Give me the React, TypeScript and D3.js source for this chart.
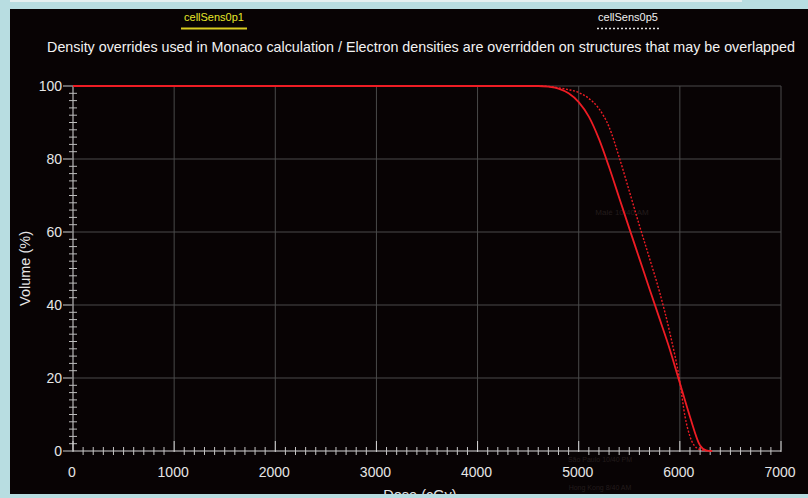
import React from 'react';
import * as d3 from 'd3';

// DVH curves
const doseSolid = [0, 4400, 4600, 4700, 4800, 4900, 5000, 5100, 5200, 5300, 5400, 5500, 5600, 5700, 5800, 5900, 6000, 6100, 6200, 6260, 6320];
const volSolid = [100, 100, 100, 99.8, 99.3, 98.0, 95.6, 91.6, 85.5, 77.8, 69.4, 61.0, 52.7, 44.4, 36.2, 27.9, 18.6, 9.4, 1.5, 0.2, 0];

const doseDotted = [0, 4500, 4700, 4800, 4900, 5000, 5100, 5200, 5300, 5400, 5500, 5600, 5700, 5800, 5900, 6000, 6050, 6100, 6140, 6200, 6260];
const volDotted = [100, 100, 99.9, 99.5, 99.0, 98.2, 96.6, 93.8, 88.8, 80.5, 71.2, 61.8, 52.8, 43.5, 32.5, 19.0, 9.6, 4.0, 1.6, 0.4, 0];

const xTicks = [0, 1000, 2000, 3000, 4000, 5000, 6000, 7000];
const yTicks = [0, 20, 40, 60, 80, 100];

const legendNames = ['cellSens0p1', 'cellSens0p5'];
const title = 'Density overrides used in Monaco calculation / Electron densities are overridden on structures that may be overlapped';

const W = 808;
const H = 498;
const font = '"Liberation Sans", Arial, sans-serif';
const bg = '#080304';
const frame = '#b8dde1';
const red = '#ee1c24';

export default function App() {
  const x = d3.scaleLinear().domain([0, 7000]).range([73, 781]);
  const y = d3.scaleLinear().domain([0, 100]).range([451, 86]);

  const line = d3.line<[number, number]>()
    .x(d => x(d[0]))
    .y(d => y(d[1]))
    .curve(d3.curveMonotoneX);

  const solid = doseSolid.map((d, i) => [d, volSolid[i]] as [number, number]);
  const dotted = doseDotted.map((d, i) => [d, volDotted[i]] as [number, number]);

  const xMinor = d3.range(100, 7000, 100).filter(v => v % 1000 !== 0);
  const yMinor = d3.range(2, 100, 2).filter(v => v % 20 !== 0);

  return (
    <svg width={W} height={H} style={{ position: 'absolute', left: 0, top: 0, display: 'block' }} fontFamily={font}>
      <rect x={0} y={0} width={W} height={H} fill={frame} />
      <rect x={0} y={0} width={742} height={2} fill="#e4eff0" />
      <rect x={10} y={9} width={W - 10} height={485} fill={bg} />

      {/* legend */}
      <text x={214} y={21} fill="#e6e62a" fontSize={11} textAnchor="middle">{legendNames[0]}</text>
      <line x1={181} x2={247} y1={28.5} y2={28.5} stroke="#d8cc20" strokeWidth={2} />
      <text x={628} y={21} fill="#f0f0f0" fontSize={11} textAnchor="middle">{legendNames[1]}</text>
      <line x1={597} x2={659} y1={28.5} y2={28.5} stroke="#e0e0e0" strokeWidth={1.5} strokeDasharray="2,2" />

      <text x={421} y={52} fill="#f2f2f2" fontSize={14.3} textAnchor="middle">{title}</text>

      {/* faint watermark texts */}
      <text x={622} y={215} fill="#231c1c" fontSize={8} textAnchor="middle">Malé 10/40 AM</text>
      <text x={600} y={462} fill="#231c1c" fontSize={7} textAnchor="middle">São Paulo 10/40 PM</text>
      <text x={600} y={490} fill="#231c1c" fontSize={7} textAnchor="middle">Hong Kong 8/40 AM</text>

      {/* grid */}
      {xTicks.filter(t => t > 0).map(t => (
        <line key={'gx' + t} x1={x(t)} x2={x(t)} y1={y(100)} y2={y(0)} stroke="#4a4a4a" strokeWidth={1} />
      ))}
      {yTicks.filter(t => t > 0).map(t => (
        <line key={'gy' + t} x1={x(0)} x2={x(7000)} y1={y(t)} y2={y(t)} stroke="#4a4a4a" strokeWidth={1} />
      ))}

      {/* y axis */}
      <line x1={x(0)} x2={x(0)} y1={y(100)} y2={y(0)} stroke="#d8d8d8" strokeWidth={1} />
      {yMinor.map(t => (
        <line key={'ym' + t} x1={x(0) - 4} x2={x(0) + 4} y1={y(t)} y2={y(t)} stroke="#bdbdbd" strokeWidth={1} />
      ))}
      {yTicks.map(t => (
        <g key={'yt' + t}>
          <line x1={x(0) - 10} x2={x(0)} y1={y(t)} y2={y(t)} stroke="#8a8a8a" strokeWidth={1.5} />
          <text x={62} y={y(t)} dy="0.35em" fill="#e6e6e6" fontSize={14} textAnchor="end">{t}</text>
        </g>
      ))}
      <text transform={`translate(30,${(y(0) + y(100)) / 2}) rotate(-90)`} fill="#e6e6e6" fontSize={14.5} textAnchor="middle">Volume (%)</text>

      {/* x axis */}
      <line x1={x(0)} x2={x(7000)} y1={y(0)} y2={y(0)} stroke="#d8d8d8" strokeWidth={1} />
      {xMinor.map(t => (
        <line key={'xm' + t} x1={x(t)} x2={x(t)} y1={y(0) - 4} y2={y(0) + 4} stroke="#c4c4c4" strokeWidth={1} />
      ))}
      {xTicks.map(t => (
        <g key={'xt' + t}>
          <line x1={x(t)} x2={x(t)} y1={y(0) - 10} y2={y(0) + 1} stroke="#d8d8d8" strokeWidth={1} />
          <text x={x(t) - 1} y={477} fill="#e6e6e6" fontSize={14} textAnchor="middle">{t}</text>
        </g>
      ))}
      <text x={420} y={500} fill="#e6e6e6" fontSize={14.5} textAnchor="middle">Dose (cGy)</text>

      {/* curves */}
      <path d={line(dotted) || ''} fill="none" stroke={red} strokeWidth={1.4} strokeDasharray="2,1.6" />
      <path d={line(solid) || ''} fill="none" stroke={red} strokeWidth={1.8} />

      {/* frame band over the cut axis title */}
      <rect x={0} y={494} width={W} height={H - 494} fill={frame} />
      <rect x={0} y={0} width={10} height={H} fill={frame} />
    </svg>
  );
}
